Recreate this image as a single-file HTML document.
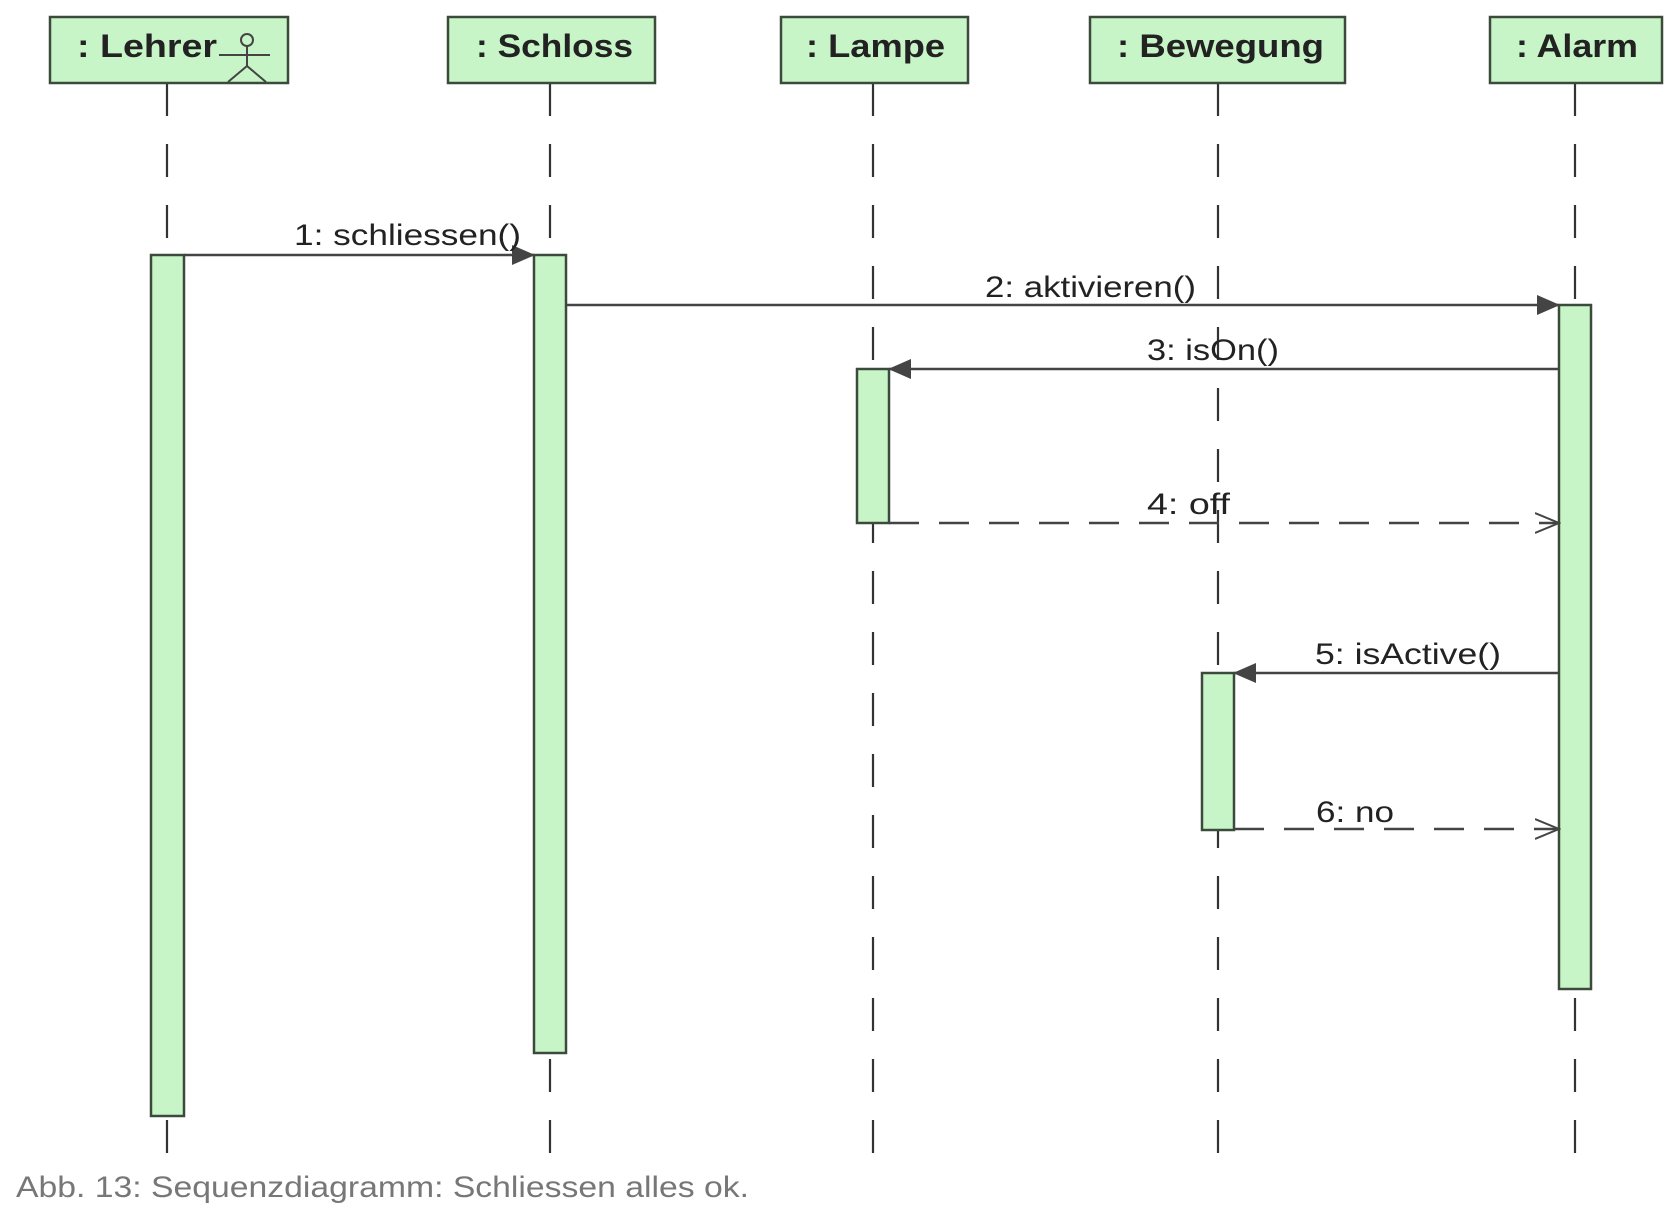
<!DOCTYPE html>
<html><head><meta charset="utf-8"><style>
html,body{margin:0;padding:0;background:#fff;}
svg{display:block;}
</style></head><body>
<svg width="1678" height="1226" viewBox="0 0 1678 1226" xmlns="http://www.w3.org/2000/svg" font-family="Liberation Sans, Arial, sans-serif">
<defs>
<marker id="f" markerWidth="24" markerHeight="20" refX="22" refY="10" orient="auto" markerUnits="userSpaceOnUse"><path d="M0,0 L23,10 L0,20 z" fill="#444"/></marker>
<marker id="o" markerWidth="26" markerHeight="22" refX="24" refY="11" orient="auto" markerUnits="userSpaceOnUse"><path d="M0,1 L24,11 L0,21" fill="none" stroke="#444" stroke-width="2"/></marker>
</defs>
<g stroke="#333" stroke-width="2.2" stroke-dasharray="33 28">
<line x1="167" y1="83" x2="167" y2="1162"/>
<line x1="550" y1="83" x2="550" y2="1162"/>
<line x1="873" y1="83" x2="873" y2="1162"/>
<line x1="1218" y1="83" x2="1218" y2="1162"/>
<line x1="1575" y1="83" x2="1575" y2="1162"/>
</g>
<g fill="#c8f5c8" stroke="#3c4a3c" stroke-width="2.5">
<rect x="50" y="17" width="238" height="66"/>
<rect x="448" y="17" width="207" height="66"/>
<rect x="781" y="17" width="187" height="66"/>
<rect x="1090" y="17" width="255" height="66"/>
<rect x="1490" y="17" width="172" height="66"/>
<rect x="151" y="255" width="33" height="861"/>
<rect x="534" y="255" width="32" height="798"/>
<rect x="1559" y="305" width="32" height="684"/>
<rect x="857" y="369" width="32" height="154"/>
<rect x="1202" y="673" width="32" height="157"/>
</g>
<g font-size="32" fill="#222" font-weight="bold" lengthAdjust="spacingAndGlyphs">
<text x="77" y="57" textLength="140" lengthAdjust="spacingAndGlyphs">: Lehrer</text>
<text x="476" y="57" textLength="157" lengthAdjust="spacingAndGlyphs">: Schloss</text>
<text x="806" y="57" textLength="139" lengthAdjust="spacingAndGlyphs">: Lampe</text>
<text x="1117" y="57" textLength="207" lengthAdjust="spacingAndGlyphs">: Bewegung</text>
<text x="1516" y="57" textLength="122" lengthAdjust="spacingAndGlyphs">: Alarm</text>
</g>
<g stroke="#444" stroke-width="2" fill="none">
<circle cx="247" cy="40" r="6"/>
<line x1="247" y1="46" x2="247" y2="66"/>
<line x1="219" y1="55" x2="270" y2="55"/>
<line x1="247" y1="66" x2="228" y2="82"/>
<line x1="247" y1="66" x2="266" y2="82"/>
</g>
<g stroke="#444" stroke-width="2.5">
<line x1="184" y1="255" x2="534" y2="255" marker-end="url(#f)"/>
<line x1="566" y1="305" x2="1559" y2="305" marker-end="url(#f)"/>
<line x1="1559" y1="369" x2="889" y2="369" marker-end="url(#f)"/>
<line x1="889" y1="523" x2="1559" y2="523" stroke-dasharray="30 20" marker-end="url(#o)"/>
<line x1="1559" y1="673" x2="1234" y2="673" marker-end="url(#f)"/>
<line x1="1234" y1="829" x2="1559" y2="829" stroke-dasharray="30 20" marker-end="url(#o)"/>
</g>
<g font-size="30" fill="#222">
<text x="294" y="245" textLength="227" lengthAdjust="spacingAndGlyphs">1: schliessen()</text>
<text x="985" y="297" textLength="211" lengthAdjust="spacingAndGlyphs">2: aktivieren()</text>
<text x="1147" y="360" textLength="132" lengthAdjust="spacingAndGlyphs">3: isOn()</text>
<text x="1147" y="514" textLength="83" lengthAdjust="spacingAndGlyphs">4: off</text>
<text x="1315" y="664" textLength="186" lengthAdjust="spacingAndGlyphs">5: isActive()</text>
<text x="1316" y="822" textLength="78" lengthAdjust="spacingAndGlyphs">6: no</text>
</g>
<text x="16" y="1197" font-size="30" fill="#777" textLength="733" lengthAdjust="spacingAndGlyphs">Abb. 13: Sequenzdiagramm: Schliessen alles ok.</text>
</svg>
</body></html>
